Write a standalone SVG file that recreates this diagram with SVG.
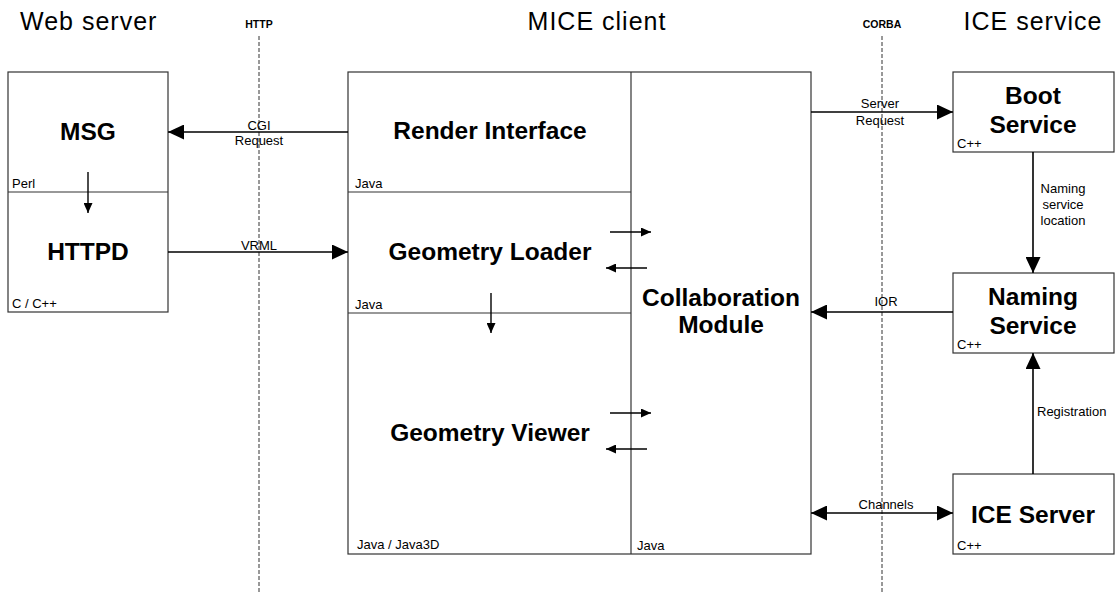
<svg xmlns="http://www.w3.org/2000/svg" width="1115" height="593" viewBox="0 0 1115 593">
<style>
.box{fill:#fff;stroke:#333;stroke-width:1.2}
.div{stroke:#333;stroke-width:1.2;fill:none}
.hdr{font-family:"Liberation Sans",Arial,sans-serif;font-size:25px;letter-spacing:1px;fill:#000}
.proto{font-family:"Liberation Sans",Arial,sans-serif;font-size:10.5px;font-weight:bold;fill:#000}
.ttl{font-family:"Liberation Sans",Arial,sans-serif;font-size:24.5px;font-weight:bold;fill:#000;text-anchor:middle}
.lang{font-family:"Liberation Sans",Arial,sans-serif;font-size:13px;fill:#000}
.lbl{font-family:"Liberation Sans",Arial,sans-serif;font-size:13px;fill:#000;text-anchor:middle}
.dash{stroke:#333;stroke-width:1;stroke-dasharray:4,2;fill:none}
.conn{stroke:#000;stroke-width:1.6;fill:none}
.big{marker-end:url(#ah)}
.small{stroke:#000;stroke-width:1.4;fill:none;marker-end:url(#as)}
</style>
<defs>
<marker id="ah" markerUnits="userSpaceOnUse" markerWidth="17" markerHeight="15" refX="16" refY="7.5" orient="auto-start-reverse" viewBox="0 0 17 15">
<path d="M0,0 L16,7.5 L0,15 z" fill="#000"/>
</marker>
<marker id="as" markerUnits="userSpaceOnUse" markerWidth="11" markerHeight="9" refX="10" refY="4.5" orient="auto" viewBox="0 0 11 9">
<path d="M0,0 L10,4.5 L0,9 z" fill="#000"/>
</marker>
</defs>
<rect width="1115" height="593" fill="#fff"/>

<!-- headers -->
<text class="hdr" x="20" y="30">Web server</text>
<text class="hdr" x="597" y="30" text-anchor="middle">MICE client</text>
<text class="hdr" x="1033" y="30" text-anchor="middle">ICE service</text>
<text class="proto" x="259" y="28" text-anchor="middle">HTTP</text>
<text class="proto" x="882" y="28" text-anchor="middle">CORBA</text>

<!-- protocol boundaries -->
<g id="boundaries">
<line class="dash" x1="259" y1="36" x2="259" y2="593"/>
<line class="dash" x1="882" y1="36" x2="882" y2="593"/>
</g>

<g id="web-server">
<rect class="box" x="8" y="72" width="160" height="240"/>
<line class="div" x1="8" y1="192" x2="168" y2="192"/>
</g>
<g id="msg">
<text class="ttl" x="88" y="140">MSG</text>
<text class="lang" x="12" y="188">Perl</text>
</g>
<g id="httpd">
<text class="ttl" x="88" y="260">HTTPD</text>
<text class="lang" x="12" y="308">C / C++</text>
</g>

<g id="mice-client">
<rect class="box" x="348" y="72" width="463" height="482"/>
<line class="div" x1="631" y1="72" x2="631" y2="554"/>
<line class="div" x1="348" y1="192" x2="631" y2="192"/>
<line class="div" x1="348" y1="313" x2="631" y2="313"/>
</g>
<g id="render-interface">
<text class="ttl" x="490" y="139">Render Interface</text>
<text class="lang" x="355" y="188">Java</text>
</g>
<g id="geometry-loader">
<text class="ttl" x="490" y="260">Geometry Loader</text>
<text class="lang" x="355" y="309">Java</text>
</g>
<g id="geometry-viewer">
<text class="ttl" x="490" y="441">Geometry Viewer</text>
<text class="lang" x="357" y="549">Java / Java3D</text>
</g>
<g id="collaboration-module">
<text class="ttl" x="721" y="306">Collaboration</text>
<text class="ttl" x="721" y="333">Module</text>
<text class="lang" x="637" y="550">Java</text>
</g>

<g id="boot-service">
<rect class="box" x="953" y="72" width="161" height="80"/>
<text class="ttl" x="1033" y="104">Boot</text>
<text class="ttl" x="1033" y="133">Service</text>
<text class="lang" x="957" y="148">C++</text>
</g>
<g id="naming-service">
<rect class="box" x="953" y="273" width="161" height="80"/>
<text class="ttl" x="1033" y="305">Naming</text>
<text class="ttl" x="1033" y="334">Service</text>
<text class="lang" x="957" y="349">C++</text>
</g>
<g id="ice-server">
<rect class="box" x="953" y="474" width="161" height="80"/>
<text class="ttl" x="1033" y="523">ICE Server</text>
<text class="lang" x="957" y="550">C++</text>
</g>

<g id="connectors">
<line class="conn big" x1="348" y1="132" x2="168" y2="132"/>
<text class="lbl" x="259" y="130">CGI</text>
<text class="lbl" x="259" y="145">Request</text>
<line class="conn big" x1="168" y1="252" x2="348" y2="252"/>
<text class="lbl" x="259" y="250">VRML</text>
<line class="conn big" x1="811" y1="112" x2="953" y2="112"/>
<text class="lbl" x="880" y="108">Server</text>
<text class="lbl" x="880" y="125">Request</text>
<line class="conn big" x1="953" y1="312" x2="811" y2="312"/>
<text class="lbl" x="886" y="306">IOR</text>
<line class="conn big" x1="811" y1="513" x2="953" y2="513" marker-start="url(#ah)"/>
<text class="lbl" x="886" y="509">Channels</text>
<line class="conn big" x1="1033" y1="152" x2="1033" y2="273"/>
<text class="lbl" x="1063" y="193">Naming</text>
<text class="lbl" x="1063" y="209">service</text>
<text class="lbl" x="1063" y="225">location</text>
<line class="conn big" x1="1033" y1="474" x2="1033" y2="353"/>
<text class="lang" x="1037" y="416">Registration</text>
<line class="small" x1="88" y1="172" x2="88" y2="213"/>
<line class="small" x1="610" y1="232" x2="651" y2="232"/>
<line class="small" x1="647" y1="268" x2="606" y2="268"/>
<line class="small" x1="491" y1="293" x2="491" y2="333"/>
<line class="small" x1="610" y1="413" x2="651" y2="413"/>
<line class="small" x1="647" y1="449" x2="606" y2="449"/>
</g>
</svg>
